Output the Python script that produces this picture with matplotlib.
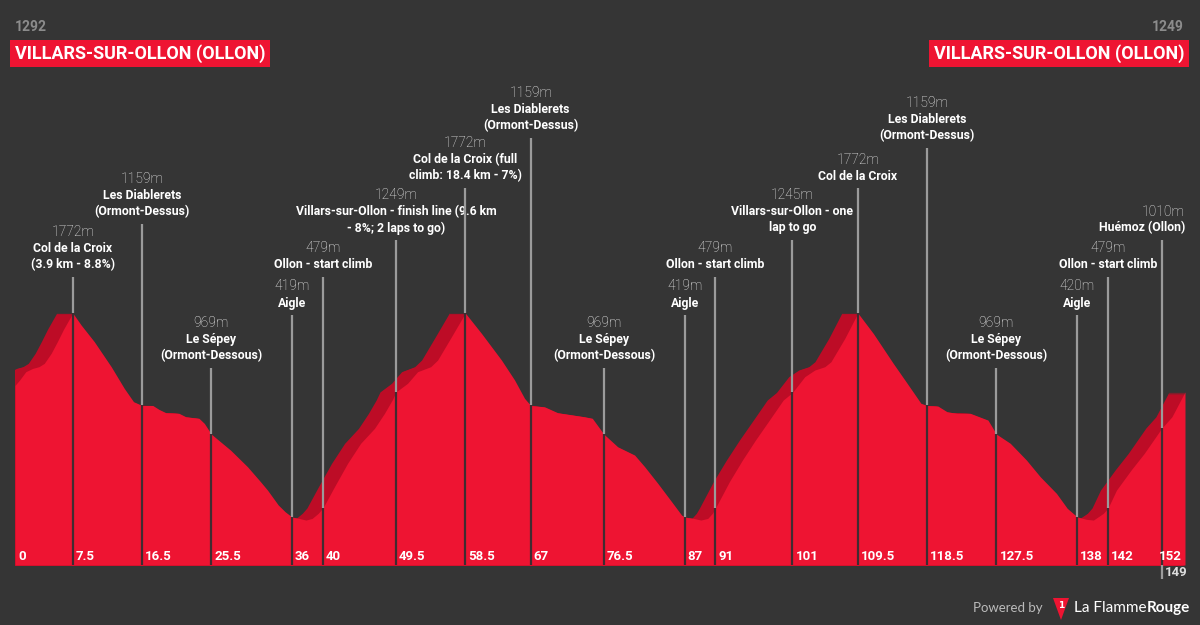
import matplotlib
matplotlib.use("Agg")
import matplotlib.pyplot as plt
from matplotlib.patches import Polygon
from matplotlib import transforms

# route profile (km, metres)
profile_km = [
    0, 0.6, 1.4, 2.3, 3.1, 3.8, 4.7, 5.5, 6.3, 7.5,
    8.6, 10.3, 12.5, 14.2, 15.4, 16.5, 17.9, 18.7, 19.6, 21.3, 22.2, 23.9, 24.6, 25.5,
    28.0, 30.2, 31.9, 32.8, 34.2, 35.1, 36,
    36.9, 37.8, 38.6, 39.4, 40,
    41.5, 43.2, 44.9, 46.7, 48.0, 49.0, 49.5,
    51.0, 52.3, 54.0, 54.9, 56.7, 58.5,
    60.6, 63.2, 64.9, 66.2, 67, 68.8, 70.5, 74.0, 75.0, 76.5,
    78.3, 80.5, 81.8, 83.5, 85.3, 86.6, 87,
    88.2, 89.1, 90.0, 90.6, 91,
    92.8, 94.5, 96.2, 98.0, 99.8, 101,
    102.6, 103.9, 105.2, 106.0, 107.8, 109.5,
    111.5, 114.1, 115.9, 117.7, 118.5, 119.9, 121.1, 122.4, 124.1, 126.4, 127.5,
    129.3, 131.4, 133.2, 135.3, 136.7, 138,
    139.2, 140.1, 141.4, 142,
    143.1, 145.0, 146.7, 149, 150.3, 152,
]
profile_elev = [
    1292, 1328, 1383, 1405, 1416, 1438, 1505, 1582, 1664, 1772,
    1692, 1582, 1416, 1272, 1184, 1159, 1159, 1133, 1111, 1107, 1084, 1074, 1040, 969,
    863, 753, 653, 598, 499, 454, 419,
    410, 399, 410, 444, 479,
    620, 775, 908, 1007, 1107, 1195, 1249,
    1306, 1383, 1416, 1460, 1615, 1772,
    1637, 1460, 1328, 1206, 1159, 1150, 1111, 1084, 1074, 969,
    885, 830, 753, 643, 521, 432, 419,
    410, 399, 410, 444, 479,
    653, 797, 930, 1062, 1195, 1245,
    1350, 1394, 1416, 1449, 1604, 1772,
    1637, 1438, 1306, 1173, 1159, 1155, 1117, 1107, 1107, 1062, 969,
    908, 797, 686, 576, 477, 420,
    404, 399, 444, 479,
    598, 731, 841, 1010, 1084, 1249,
]

# points of interest
poi_km = [7.5, 16.5, 25.5, 36, 40, 49.5, 58.5, 67, 76.5, 87, 91, 101,
          109.5, 118.5, 127.5, 138, 142, 149]
poi_elev = [1772, 1159, 969, 419, 479, 1249, 1772, 1159, 969, 419, 479, 1245,
            1772, 1159, 969, 420, 479, 1010]
poi_names = [
    "Col de la Croix\n(3.9 km - 8.8%)",
    "Les Diablerets\n(Ormont-Dessus)",
    "Le Sépey\n(Ormont-Dessous)",
    "Aigle",
    "Ollon - start climb",
    "Villars-sur-Ollon - finish line (9.6 km\n- 8%; 2 laps to go)",
    "Col de la Croix (full\nclimb: 18.4 km - 7%)",
    "Les Diablerets\n(Ormont-Dessus)",
    "Le Sépey\n(Ormont-Dessous)",
    "Aigle",
    "Ollon - start climb",
    "Villars-sur-Ollon - one\nlap to go",
    "Col de la Croix",
    "Les Diablerets\n(Ormont-Dessus)",
    "Le Sépey\n(Ormont-Dessous)",
    "Aigle",
    "Ollon - start climb",
    "Huémoz (Ollon)",
]
poi_ticks = ["7.5", "16.5", "25.5", "36", "40", "49.5", "58.5", "67", "76.5", "87",
             "91", "101", "109.5", "118.5", "127.5", "138", "142", "149"]
# pixel y where each label line stops
poi_top = [277, 224, 368, 315, 277, 240, 188, 138, 368, 315, 277, 240,
           188, 148, 368, 315, 277, 240]

start_name = "VILLARS-SUR-OLLON (OLLON)"
start_elev = 1292
finish_name = "VILLARS-SUR-OLLON (OLLON)"
finish_elev = 1249
total_km = 152

BG = "#353535"
RED = "#ee1432"
DARK_RED = "#bd0c26"
GREY = "#9b9b9b"
GAP = "#3f2c31"

W, H = 1200, 625
ELEV_LO, ELEV_HI = 101, 3848
BASE_PX = 565

fig = plt.figure(figsize=(W / 100, H / 100), dpi=100, facecolor=BG)
ax = fig.add_axes([15 / W, (H - BASE_PX) / H, 1170 / W, BASE_PX / H])
ax.set_facecolor(BG)
ax.set_xlim(0, total_km)
ax.set_ylim(ELEV_LO, ELEV_HI)
ax.axis("off")

bold = dict(family="Roboto", fontweight="bold")


def px2elev(ypx):
    return ELEV_LO + (BASE_PX - ypx) / BASE_PX * (ELEV_HI - ELEV_LO)


# extruded back face: profile dragged to the left
for k in range(1, 17):
    tr = transforms.offset_copy(ax.transData, fig=fig, x=-k, y=0, units="dots")
    ax.fill_between(profile_km, ELEV_LO, profile_elev, color=DARK_RED,
                    lw=0, transform=tr, zorder=1)
ax.fill_between(profile_km, ELEV_LO, profile_elev, color=RED, lw=0, zorder=2)

blend = transforms.blended_transform_factory(ax.transData, fig.transFigure)

for i, km in enumerate(poi_km):
    ax.plot([km, km], [poi_elev[i], px2elev(poi_top[i])], color=GREY, lw=1.6,
            zorder=3, solid_capstyle="butt")
    ax.plot([km, km], [ELEV_LO, poi_elev[i]], color=GAP, lw=1.6, zorder=3,
            solid_capstyle="butt")

    lines = poi_names[i].split("\n")
    n = len(lines)
    ha = "center"
    xt = km
    if km == 149:
        ha = "right"
        xt = total_km
    for j, ln in enumerate(lines):
        ypx = poi_top[i] - 12 - 16.5 * (n - 1 - j)
        ax.text(xt, 1 - ypx / H, ln, transform=blend, ha=ha, va="center",
                color="white", fontsize=8.8, **bold)
    ypx = poi_top[i] - 12 - 16.5 * n
    ax.text(xt, 1 - ypx / H, f"{poi_elev[i]}m", transform=blend, ha=ha,
            va="center", color="#f0f0f0", fontsize=10, family="Roboto",
            fontweight="light")

# km labels along the base
tick_tr = transforms.offset_copy(blend, fig=fig, x=3, y=0, units="dots")
ax.text(0, 1 - 557 / H, "0", transform=tick_tr, ha="left", va="center",
        color="white", fontsize=9.5, **bold)
for i, km in enumerate(poi_km):
    if poi_ticks[i] == "149":
        continue
    ax.text(km, 1 - 557 / H, poi_ticks[i], transform=tick_tr, ha="left",
            va="center", color="white", fontsize=9.5, **bold)
end_tr = transforms.offset_copy(blend, fig=fig, x=-3, y=0, units="dots")
ax.text(total_km, 1 - 557 / H, str(total_km), transform=end_tr, ha="right",
        va="center", color="white", fontsize=9.5, **bold)
# 149 pushed below the base
ax.plot([149, 149], [ELEV_LO, px2elev(579)], color=GREY, lw=1.6,
        clip_on=False, zorder=3, solid_capstyle="butt")
ax.text(149, 1 - 572 / H, "149", transform=tick_tr, ha="left", va="center",
        color="#dddddd", fontsize=9.5, **bold)

# start / finish headers
fig.text(15 / W, 1 - 27 / H, str(start_elev), ha="left", va="center",
         color="#8c8c8c", fontsize=10, **bold)
fig.text(15 / W, 1 - 53.5 / H, start_name, ha="left", va="center",
         color="white", fontsize=13, **bold,
         bbox=dict(boxstyle="square,pad=0.25", fc=RED, ec="none"))
fig.text(1184 / W, 1 - 27 / H, str(finish_elev), ha="right", va="center",
         color="#8c8c8c", fontsize=10, **bold)
fig.text(1184 / W, 1 - 53.5 / H, finish_name, ha="right", va="center",
         color="white", fontsize=13, **bold,
         bbox=dict(boxstyle="square,pad=0.25", fc=RED, ec="none"))

# footer
fig.text(1043 / W, 1 - 608 / H, "Powered by", ha="right", va="center",
         color="#bbbbbb", fontsize=9.5, family="Lato")
tri = Polygon([[1053 / W, 1 - 598 / H], [1069 / W, 1 - 598 / H],
               [1061 / W, 1 - 620 / H]], closed=True, fc=RED, ec="none",
              transform=fig.transFigure)
fig.patches.append(tri)
fig.text(1061 / W, 1 - 605 / H, "1", ha="center", va="center", color="white",
         fontsize=6.5, fontweight="bold")
brand = fig.text(1074 / W, 1 - 608 / H, "La Flamme", ha="left", va="center",
                 color="white", fontsize=11, family="Lato")
fig.canvas.draw()
bb = brand.get_window_extent()
fig.text(bb.x1 / W, 1 - 608 / H, "Rouge", ha="left", va="center",
         color="white", fontsize=11, family="Lato", fontweight="bold")

fig.savefig("out.png", dpi=100, facecolor=BG)
